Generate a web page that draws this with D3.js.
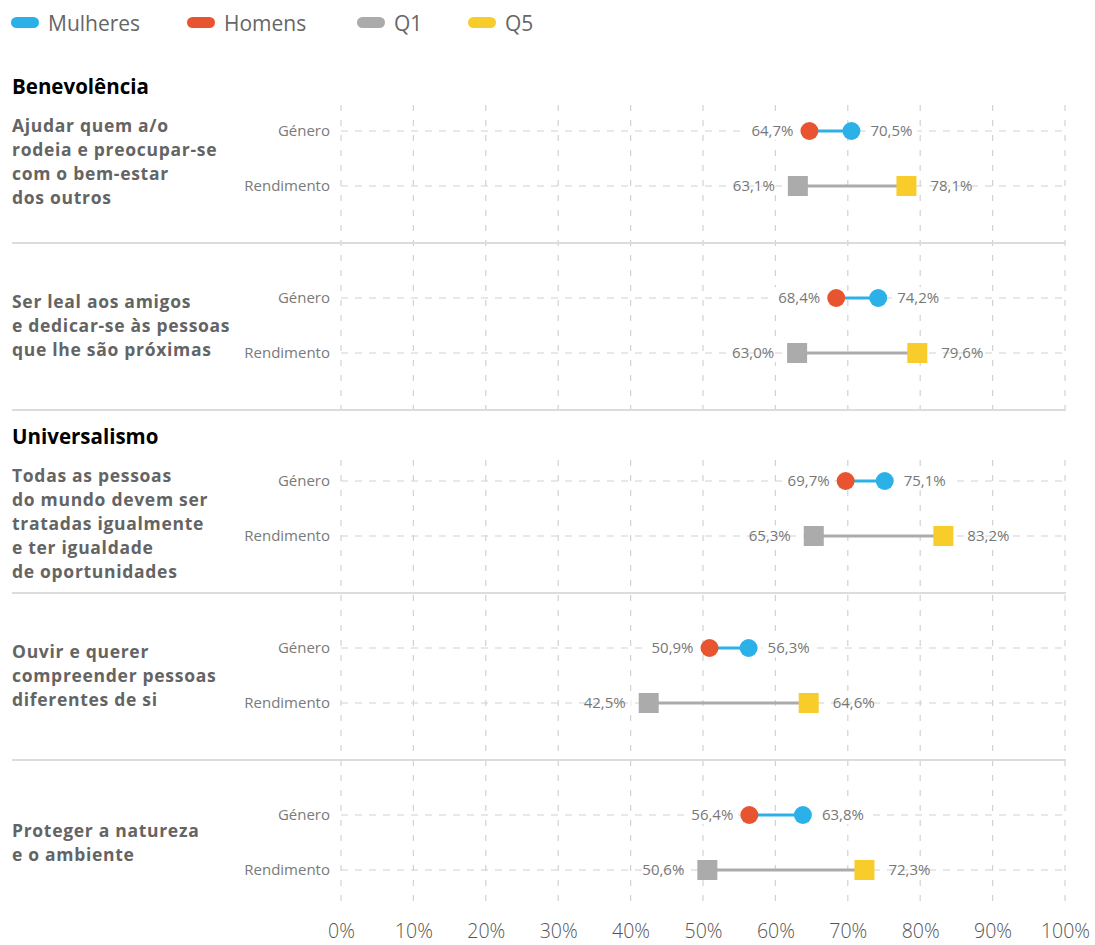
<!DOCTYPE html>
<html>
<head>
<meta charset="utf-8">
<script src="https://cdn.jsdelivr.net/npm/d3@7"></script>
<style>
  html, body { margin: 0; padding: 0; background: #fff; }
  svg { display: block; font-family: "Open Sans", sans-serif; }
</style>
</head>
<body>
<svg id="chart" width="1095" height="945"></svg>
<script>
// ---- data ----
const groups = ["Benevolência", "Universalismo"];
const itemGroup = [0, 0, 1, 1, 1];
const itemLabels = [
  ["Ajudar quem a/o", "rodeia e preocupar-se", "com o bem-estar", "dos outros"],
  ["Ser leal aos amigos", "e dedicar-se às pessoas", "que lhe são próximas"],
  ["Todas as pessoas", "do mundo devem ser", "tratadas igualmente", "e ter igualdade", "de oportunidades"],
  ["Ouvir e querer", "compreender pessoas", "diferentes de si"],
  ["Proteger a natureza", "e o ambiente"]
];
const rowLabels = ["Género", "Rendimento"];
const homens   = [64.7, 68.4, 69.7, 50.9, 56.4];
const mulheres = [70.5, 74.2, 75.1, 56.3, 63.8];
const q1       = [63.1, 63.0, 65.3, 42.5, 50.6];
const q5       = [78.1, 79.6, 83.2, 64.6, 72.3];
const legendLabels = ["Mulheres", "Homens", "Q1", "Q5"];
const tickValues = [0, 10, 20, 30, 40, 50, 60, 70, 80, 90, 100];

// ---- style ----
const C = { blue: "#2bb1e8", red: "#e8542f", gray: "#ababab", yellow: "#f8cd2b" };
const legendColors = [C.blue, C.red, C.gray, C.yellow];
const fmt = v => d3.format(".1f")(v).replace(".", ",") + "%";

const svg = d3.select("#chart");
const x = d3.scaleLinear().domain([0, 100]).range([341, 1065]);

// ---- legend ----
const legendX = [11, 187, 357, 468];
const lg = svg.append("g");
legendLabels.forEach((l, i) => {
  lg.append("rect").attr("x", legendX[i]).attr("y", 17).attr("width", 28).attr("height", 11)
    .attr("rx", 5.5).attr("fill", legendColors[i]);
  lg.append("text").attr("x", legendX[i] + 37).attr("y", 30.5).attr("font-size", 21)
    .attr("fill", "#666").text(l);
});

// ---- layout of items ----
const blockH = 167;
let y0 = 76;
const blocks = [];
itemLabels.forEach((lab, i) => {
  if (i > 0 && itemGroup[i] !== itemGroup[i - 1]) y0 += 16;
  blocks.push({ i, top: y0 });
  y0 += blockH;
});

// panels (vertical gridlines)
const panels = groups.map((g, gi) => {
  const bs = blocks.filter(b => itemGroup[b.i] === gi);
  const top = bs[0].top + (gi === 0 ? 29 : 34);
  const lastIdx = bs[bs.length - 1].i;
  const bottom = lastIdx === itemLabels.length - 1 ? bs[bs.length - 1].top + 148 : bs[bs.length - 1].top + blockH;
  return { top, bottom, header: bs[0].top + 17.5, name: g };
});

const grid = svg.append("g");
panels.forEach(p => {
  grid.selectAll(null).data(tickValues).enter().append("line")
    .attr("x1", d => x(d)).attr("x2", d => x(d))
    .attr("y1", p.top).attr("y2", p.bottom)
    .attr("stroke", "#d2d2d2").attr("stroke-width", 1.2).attr("stroke-dasharray", "6,9");
  svg.append("text").attr("x", 12).attr("y", p.header).attr("font-size", 20.5)
    .attr("font-weight", 700).attr("fill", "#000").text(p.name);
});

// separators
blocks.forEach(b => {
  if (b.i < itemLabels.length - 1) {
    svg.append("line").attr("x1", 12).attr("x2", 1066)
      .attr("y1", b.top + blockH).attr("y2", b.top + blockH)
      .attr("stroke", "#dcdcdc").attr("stroke-width", 2);
  }
});

// rows
const lineH = 24;
blocks.forEach(b => {
  const i = b.i;
  const yG = b.top + 55, yR = b.top + 110;
  const g = svg.append("g");

  [yG, yR].forEach((yy, k) => {
    g.append("line").attr("x1", x(0)).attr("x2", x(100)).attr("y1", yy).attr("y2", yy)
      .attr("stroke", "#d2d2d2").attr("stroke-width", 1.2).attr("stroke-dasharray", "7,7");
    g.append("text").attr("x", 330).attr("y", yy).attr("dy", "0.35em").attr("text-anchor", "end")
      .attr("font-size", 15).attr("fill", "#7a7a7a").text(rowLabels[k]);
  });

  const lines = itemLabels[i];
  const center = (yG + yR) / 2;
  const firstY = Math.max(center - (lines.length - 1) * lineH / 2, yG - 5);
  lines.forEach((ln, k) => {
    g.append("text").attr("x", 12).attr("y", firstY + k * lineH).attr("dy", "0.35em")
      .attr("font-size", 17.5).attr("letter-spacing", 0.7)
      .attr("font-weight", 700).attr("fill", "#646464").text(ln);
  });

  function label(v, yy, anchor, off) {
    const t = g.append("text").attr("x", x(v) + off).attr("y", yy).attr("dy", "0.35em")
      .attr("text-anchor", anchor).attr("font-size", 15).attr("fill", "#777").text(fmt(v));
    const bb = t.node().getBBox();
    g.insert("rect", "text").attr("x", bb.x - 5).attr("y", bb.y).attr("width", bb.width + 10)
      .attr("height", bb.height).attr("fill", "#fff");
  }

  const gl = Math.min(homens[i], mulheres[i]), gr = Math.max(homens[i], mulheres[i]);
  label(gl, yG, "end", -16);
  label(gr, yG, "start", 19);
  g.append("line").attr("x1", x(homens[i])).attr("x2", x(mulheres[i])).attr("y1", yG).attr("y2", yG)
    .attr("stroke", C.blue).attr("stroke-width", 3);
  g.append("circle").attr("cx", x(homens[i])).attr("cy", yG).attr("r", 9).attr("fill", C.red);
  g.append("circle").attr("cx", x(mulheres[i])).attr("cy", yG).attr("r", 9).attr("fill", C.blue);

  label(Math.min(q1[i], q5[i]), yR, "end", -23);
  label(Math.max(q1[i], q5[i]), yR, "start", 24);
  g.append("line").attr("x1", x(q1[i])).attr("x2", x(q5[i])).attr("y1", yR).attr("y2", yR)
    .attr("stroke", C.gray).attr("stroke-width", 3);
  const s = 20;
  g.append("rect").attr("x", x(q1[i]) - s / 2).attr("y", yR - s / 2).attr("width", s).attr("height", s)
    .attr("fill", C.gray);
  g.append("rect").attr("x", x(q5[i]) - s / 2).attr("y", yR - s / 2).attr("width", s).attr("height", s)
    .attr("fill", C.yellow);
});

// bottom axis
const axis = d3.axisBottom(x).tickValues(tickValues).tickSize(0).tickFormat(d => d + "%");
const ax = svg.append("g").attr("transform", "translate(0,918)").call(axis);
ax.select(".domain").remove();
ax.selectAll("text").attr("font-size", 19.5).attr("fill", "#555").attr("font-family", "Open Sans, sans-serif")
  .attr("font-weight", 300).attr("dy", "0.71em").attr("y", 6);
</script>
</body>
</html>
